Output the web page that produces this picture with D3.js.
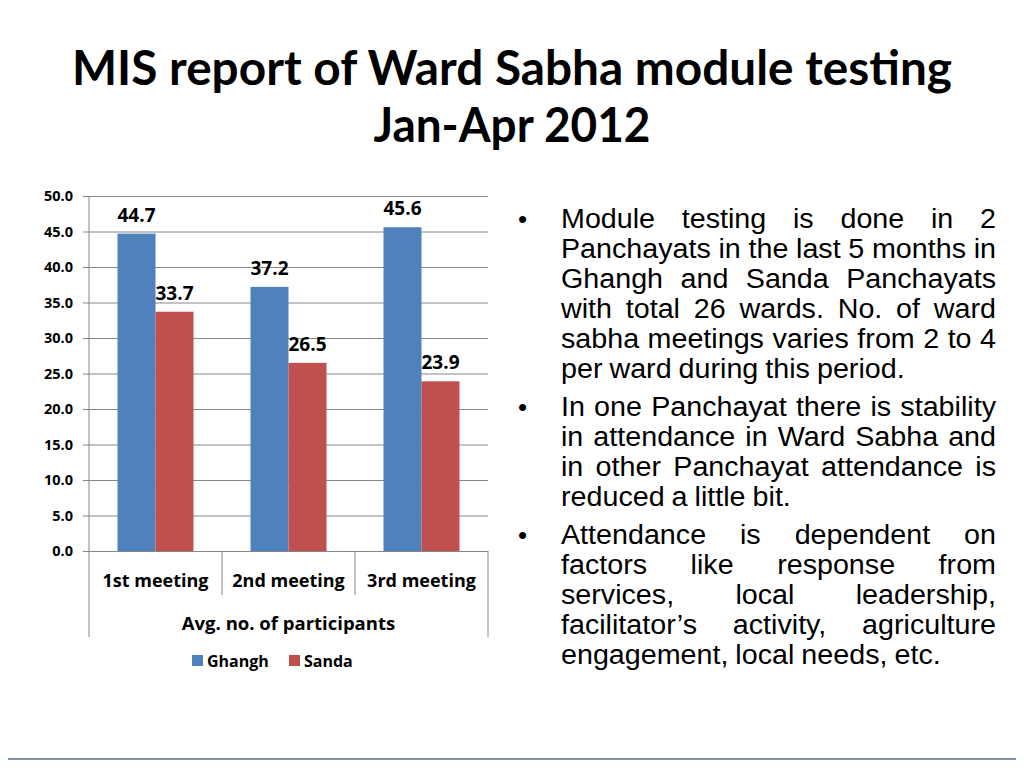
<!DOCTYPE html>
<html>
<head>
<meta charset="utf-8">
<script src="https://cdn.jsdelivr.net/npm/d3@7"></script>
<style>
  body { margin: 0; background: #fff; }
  svg text { font-family: "Open Sans", "Noto Sans", sans-serif; }
  svg text.title { font-family: Lato, sans-serif; }
  svg text.body { font-family: "Liberation Sans", Arial, sans-serif; }
</style>
</head>
<body>
<div id="slide"></div>
<script>
// chart data
var meetings = ["1st meeting", "2nd meeting", "3rd meeting"];
var seriesNames = ["Ghangh", "Sanda"];
var ghangh = [44.7, 37.2, 45.6];
var sanda = [33.7, 26.5, 23.9];
var yTicks = [0, 5, 10, 15, 20, 25, 30, 35, 40, 45, 50];
var groupLabel = "Avg. no. of participants";

var titleLines = ["MIS report of Ward Sabha module testing", "Jan-Apr 2012"];

// bullet text, line by line as on the slide
var bullets = [
    ["Module testing is done in 2",
     "Panchayats in the last 5 months in",
     "Ghangh and Sanda Panchayats",
     "with total 26 wards. No. of ward",
     "sabha meetings varies from 2 to 4",
     "per ward during this period."],
    ["In one Panchayat there is stability",
     "in attendance in Ward Sabha and",
     "in other Panchayat attendance is",
     "reduced a little bit."],
    ["Attendance is dependent on",
     "factors like response from",
     "services, local leadership,",
     "facilitator\u2019s activity, agriculture",
     "engagement, local needs, etc."]
];

var colors = ["#4F81BD", "#C0504D"];

var svgWidth = 1024;
var svgHeight = 768;

var svg = d3.select("#slide")
    .append("svg")
    .attr("width", svgWidth)
    .attr("height", svgHeight);

// title
var titleY = [85, 142];
var titleW = [880, 277];
titleLines.forEach(function(t, i) {
    svg.append("text")
        .attr("class", "title")
        .attr("x", 512)
        .attr("y", titleY[i])
        .attr("text-anchor", "middle")
        .attr("font-size", "48px")
        .attr("font-weight", "bold")
        .attr("fill", "#000")
        .attr("textLength", titleW[i])
        .attr("lengthAdjust", "spacingAndGlyphs")
        .text(t);
});

// chart area
var chart = { left: 89, right: 488, top: 196, bottom: 551 };

var xScale = d3.scaleBand()
    .domain(meetings)
    .range([chart.left, chart.right]);

var xInner = d3.scaleBand()
    .domain(seriesNames)
    .range([0, xScale.bandwidth()])
    .paddingOuter(0.75)
    .paddingInner(0);

var yScale = d3.scaleLinear()
    .domain([0, 50])
    .range([chart.bottom, chart.top]);

// gridlines + ticks
var leftAxis = d3.axisLeft(yScale)
    .tickValues(yTicks)
    .tickSize(-(chart.right - chart.left))
    .tickSizeOuter(0)
    .tickPadding(16)
    .tickFormat(d3.format(".1f"));

var yAxis = svg.append("g")
    .attr("transform", `translate(${chart.left}, 0)`)
    .call(leftAxis);

yAxis.select(".domain").remove();
yAxis.selectAll(".tick line")
    .attr("x1", -6)
    .attr("stroke", "#868686")
    .attr("stroke-width", 1);
yAxis.selectAll(".tick text")
    .attr("font-size", "14.5px")
    .attr("font-weight", "bold")
    .attr("fill", "#000");

// axis lines
svg.append("line")
    .attr("x1", chart.left).attr("x2", chart.left)
    .attr("y1", chart.top).attr("y2", 637)
    .attr("stroke", "#868686");
svg.append("line")
    .attr("x1", chart.right).attr("x2", chart.right)
    .attr("y1", chart.bottom).attr("y2", 637)
    .attr("stroke", "#868686");
meetings.slice(1).forEach(function(m) {
    svg.append("line")
        .attr("x1", xScale(m)).attr("x2", xScale(m))
        .attr("y1", chart.bottom).attr("y2", 595)
        .attr("stroke", "#868686");
});

// bars
var rows = meetings.map(function(m, i) {
    return { meeting: m, values: [ghangh[i], sanda[i]] };
});

var groups = svg.selectAll(".group")
    .data(rows)
    .enter()
    .append("g")
    .attr("transform", d => `translate(${xScale(d.meeting)}, 0)`);

groups.selectAll("rect")
    .data(d => d.values.map((v, j) => ({ name: seriesNames[j], value: v, j: j })))
    .enter()
    .append("rect")
    .attr("x", d => xInner(d.name))
    .attr("y", d => yScale(d.value))
    .attr("width", xInner.bandwidth())
    .attr("height", d => chart.bottom - yScale(d.value))
    .attr("fill", d => colors[d.j]);

groups.selectAll(".val")
    .data(d => d.values.map((v, j) => ({ name: seriesNames[j], value: v, j: j })))
    .enter()
    .append("text")
    .attr("x", d => xInner(d.name) + xInner.bandwidth() / 2)
    .attr("y", d => yScale(d.value) - 12)
    .attr("text-anchor", "middle")
    .attr("font-size", "19px")
    .attr("font-weight", "bold")
    .attr("fill", "#000")
    .text(d => d.value.toFixed(1));

// category labels
svg.selectAll(".cat")
    .data(meetings)
    .enter()
    .append("text")
    .attr("x", d => xScale(d) + xScale.bandwidth() / 2)
    .attr("y", 587)
    .attr("text-anchor", "middle")
    .attr("font-size", "18px")
    .attr("font-weight", "bold")
    .attr("fill", "#000")
    .text(d => d);

svg.append("text")
    .attr("x", (chart.left + chart.right) / 2)
    .attr("y", 630)
    .attr("text-anchor", "middle")
    .attr("font-size", "18.5px")
    .attr("font-weight", "bold")
    .attr("fill", "#000")
    .text(groupLabel);

// legend
var legendX = [192, 289];
seriesNames.forEach(function(n, i) {
    svg.append("rect")
        .attr("x", legendX[i]).attr("y", 655)
        .attr("width", 11).attr("height", 11)
        .attr("fill", colors[i]);
    svg.append("text")
        .attr("x", legendX[i] + 15).attr("y", 667)
        .attr("font-size", "16px")
        .attr("font-weight", "bold")
        .attr("fill", "#000")
        .text(n);
});

// bullet text, justified (one text element per paragraph, a tspan per word)
var textLeft = 561, textRight = 996;
var lineGap = 30, paraGap = 38;
var baseline = 228;
var bodySize = 26.8;
var widen = 1.07;   // glyphs a little wider, closer to the slide font
bullets.forEach(function(para) {
    svg.append("text")
        .attr("class", "body")
        .attr("x", 518).attr("y", baseline)
        .attr("font-size", "26px")
        .attr("fill", "#000")
        .text("\u2022");
    var paraText = svg.append("text")
        .attr("class", "body")
        .attr("font-size", bodySize + "px")
        .attr("fill", "#000");
    para.forEach(function(line, li) {
        var words = line.split(" ");
        var last = li === para.length - 1;
        var spans = words.map(function(w) {
            return paraText.append("tspan")
                .attr("y", baseline)
                .text(w);
        });
        var widths = spans.map(s => s.node().getComputedTextLength() * widen);
        var total = d3.sum(widths);
        var space = 7;
        if (!last && words.length > 1) {
            space = (textRight - textLeft - total) / (words.length - 1);
        }
        var squeeze = 1;
        if (space < 5 && words.length > 1) {
            squeeze = (textRight - textLeft - 5 * (words.length - 1)) / total;
            space = 5;
        }
        var x = textLeft;
        spans.forEach(function(s, k) {
            var w = widths[k] * squeeze;
            s.attr("x", x)
                .attr("textLength", w)
                .attr("lengthAdjust", "spacingAndGlyphs");
            x += w + space;
        });
        baseline += lineGap;
    });
    baseline += paraGap - lineGap;
});

// footer rule
svg.append("line")
    .attr("x1", 8).attr("x2", 1016)
    .attr("y1", 759).attr("y2", 759)
    .attr("stroke", "#5a6e85")
    .attr("stroke-width", 1.5);
</script>
</body>
</html>
